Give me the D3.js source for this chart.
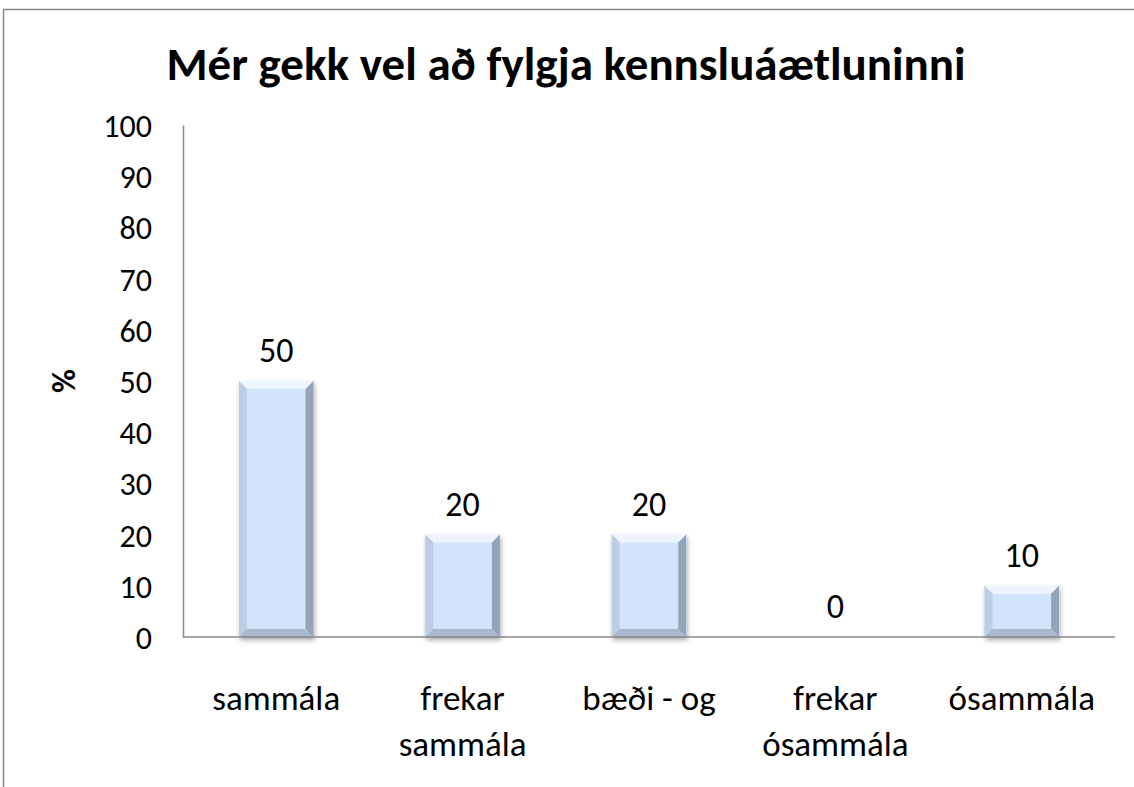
<!DOCTYPE html>
<meta charset="utf-8">
<style>
body { margin: 0; background: #fff; }
text { font-family: Carlito, Lato, "Open Sans", sans-serif; fill: #000; }
</style>
<svg width="1134" height="787"></svg>
<script src="https://cdnjs.cloudflare.com/ajax/libs/d3/7.8.5/d3.min.js"></script>
<script>

var categories = [["sammála"], ["frekar", "sammála"], ["bæði - og"], ["frekar", "ósammála"], ["ósammála"]];
var values = [50, 20, 20, 0, 10];
var yTicks = [0, 10, 20, 30, 40, 50, 60, 70, 80, 90, 100];
var title = "Mér gekk vel að fylgja kennsluáætluninni";

var svg = d3.select("svg"),
    width = +svg.attr("width"),
    height = +svg.attr("height");

var margin = {left: 183, right: 19, top: 125, bottom: 150};

// outer chart border
svg.append("rect")
    .attr("x", 3.5).attr("y", 9.5)
    .attr("width", width + 10).attr("height", height + 10)
    .attr("fill", "none").attr("stroke", "#888").attr("stroke-width", 1.5);

var x = d3.scaleBand()
    .domain(d3.range(values.length))
    .range([margin.left, width - margin.right])
    .paddingInner(0.6).paddingOuter(0.3);

var y = d3.scaleLinear().domain([0, 100]).range([height - margin.bottom, margin.top]);

var defs = svg.append("defs");
var f = defs.append("filter").attr("id", "shadow")
    .attr("x", "-20%").attr("y", "-10%").attr("width", "140%").attr("height", "130%");
f.append("feDropShadow").attr("dx", 1).attr("dy", 3).attr("stdDeviation", 2.5)
    .attr("flood-color", "#000").attr("flood-opacity", 0.35);

// title
svg.append("text")
    .attr("x", 566).attr("y", 80)
    .attr("text-anchor", "middle")
    .style("font-size", "47px").style("font-weight", "bold")
    .text(title);

// y axis
var yAxis = svg.append("g")
    .attr("transform", "translate(" + margin.left + ",0)")
    .call(d3.axisLeft(y).tickValues(yTicks).tickSize(0).tickPadding(31));
yAxis.select(".domain").attr("stroke", "#888").attr("stroke-width", 1.5);
yAxis.selectAll("text").style("font-size", "32px").attr("font-family", null).attr("dy", "0.36em");

svg.append("text")
    .attr("transform", "translate(75," + y(50) + ") rotate(-90)")
    .attr("text-anchor", "middle")
    .style("font-size", "33px").style("font-weight", "bold")
    .text("%");

// bars with bevel
var bev = 8;
var barG = svg.append("g");
values.forEach(function(v, i) {
  if (v <= 0) return;
  var x0 = x(i), x1 = x(i) + x.bandwidth(), y0 = y(v), y1 = y(0);
  var g = barG.append("g");
  g.append("rect")
      .attr("x", x0).attr("y", y0).attr("width", x1 - x0).attr("height", y1 - y0)
      .attr("fill", "#d2e4fb").attr("filter", "url(#shadow)");
  var b = Math.min(bev, (y1 - y0) / 2);
  var facets = [
    {pts: [[x0, y0], [x1, y0], [x1 - b, y0 + b], [x0 + b, y0 + b]], c: "#eef5fe"},
    {pts: [[x0, y0], [x0 + b, y0 + b], [x0 + b, y1 - b], [x0, y1]], c: "#bccde4"},
    {pts: [[x1, y0], [x1, y1], [x1 - b, y1 - b], [x1 - b, y0 + b]], c: "#93a3ba"},
    {pts: [[x0, y1], [x0 + b, y1 - b], [x1 - b, y1 - b], [x1, y1]], c: "#a9b8cd"}
  ];
  g.selectAll("polygon").data(facets).enter().append("polygon")
      .attr("points", function(p) { return p.pts.join(" "); })
      .attr("fill", function(p) { return p.c; });
});

// x axis line
svg.append("line")
    .attr("x1", margin.left).attr("x2", width - margin.right)
    .attr("y1", y(0)).attr("y2", y(0))
    .attr("stroke", "#888").attr("stroke-width", 1.5);

// value labels
svg.append("g").selectAll("text")
    .data(values)
    .enter().append("text")
    .attr("x", function(d, i) { return x(i) + x.bandwidth() / 2; })
    .attr("y", function(d) { return y(d) - 19; })
    .attr("text-anchor", "middle")
    .style("font-size", "34px")
    .text(function(d) { return d; });

// category labels
var cat = svg.append("g").selectAll("text")
    .data(categories)
    .enter().append("text")
    .attr("x", function(d, i) { return x(i) + x.bandwidth() / 2; })
    .attr("y", 710)
    .attr("text-anchor", "middle")
    .style("font-size", "35px");
cat.selectAll("tspan")
    .data(function(d) { return d; })
    .enter().append("tspan")
    .attr("x", function() { return d3.select(this.parentNode).attr("x"); })
    .attr("dy", function(d, j) { return j ? 46 : 0; })
    .text(function(d) { return d; });

</script>
